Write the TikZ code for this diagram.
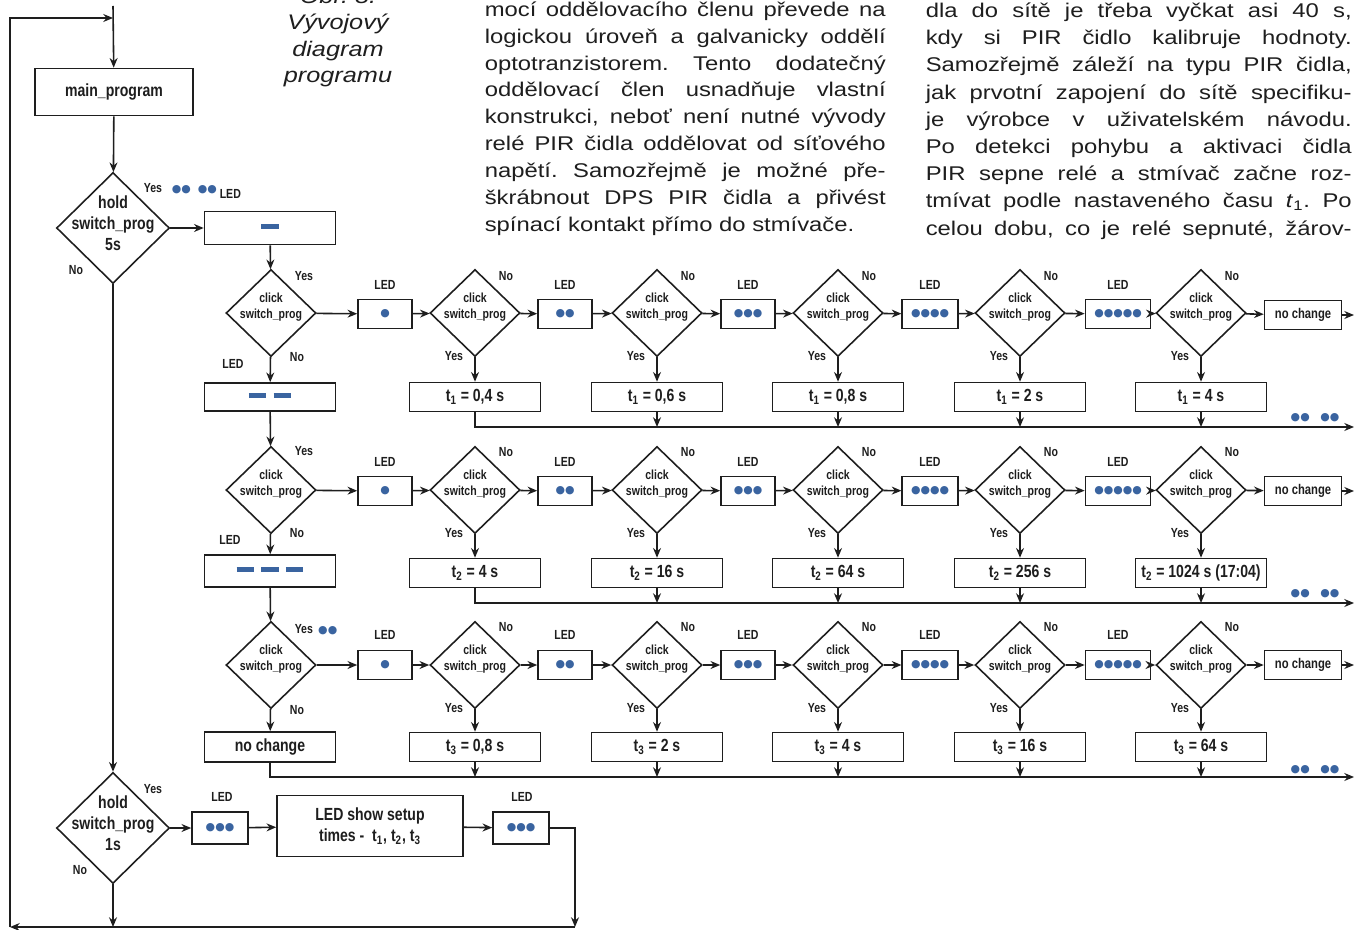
\documentclass[tikz,border=0pt]{standalone}
\usepackage{fontspec}
\setmainfont{Liberation Sans}
\newfontfamily\chartfont[FakeStretch=0.8]{Liberation Sans}
\newfontfamily\parafont[FakeStretch=1.2]{Liberation Sans}
\newfontfamily\ledfont{DejaVu Sans}
\usetikzlibrary{shapes.geometric,arrows.meta}
\frenchspacing

\definecolor{ink}{RGB}{30,30,30}
\definecolor{ledblue}{RGB}{58,100,160}

% text inside a diamond, kept out of the shape size
\newcommand\dtext[2][0pt]{\raisebox{#1}{\smash{\makebox[0pt]{\begin{tabular}{@{}c@{}}#2\end{tabular}}}}}
% blue LED marks
\newcommand\leds[1]{{\ledfont\fontsize{6.2}{8}\selectfont\color{ledblue}\ifcase#1\or ●\or ●●\or ●●●\or ●●●●\or ●●●●●\fi}}
\newcommand\ledbar{{\color{ledblue}\rule[1.6pt]{10pt}{3.2pt}}}

\begin{document}
\begin{tikzpicture}[x=0.02cm, y=-0.02cm, color=ink, line width=0.9pt,
	>={Stealth[length=5.5pt, width=4.5pt]},
	box/.style = {draw, minimum width=2.62cm, minimum height=0.58cm, inner sep=2pt, font=\chartfont\bfseries\fontsize{10}{12}\selectfont},
	ledbox/.style = {draw, minimum width=1.08cm, minimum height=0.58cm, inner xsep=5pt, inner ysep=2pt, font=\chartfont\bfseries\fontsize{8}{10}\selectfont},
	dia/.style = {draw, diamond, inner sep=0pt, minimum width=1.8cm, minimum height=1.74cm, font=\chartfont\bfseries\fontsize{7.5}{9}\selectfont},
	bigdia/.style = {dia, minimum width=2.26cm, minimum height=2.22cm, font=\chartfont\bfseries\fontsize{10}{12}\selectfont},
	lbl/.style = {inner sep=0pt, font=\chartfont\bfseries\fontsize{7.5}{9}\selectfont},
	para/.style = {inner sep=0pt, anchor=base west, font=\parafont\fontsize{11.3}{13}\selectfont},
	captxt/.style = {inner sep=0pt, anchor=base, font=\parafont\itshape\fontsize{12}{14}\selectfont}]

	\fill[white] (0,0) rectangle (1354,929);
	\useasboundingbox (0,0) rectangle (1354,929);

	% caption and article text
	\node[captxt] (O1) at (338,4) {Obr. 8.};
	\node[captxt] (O2) at (338,30) {Vývojový};
	\node[captxt] (O3) at (338,57) {diagram};
	\node[captxt] (O4) at (338,83) {programu};

	\foreach \txt [count=\i] in {{mocí oddělovacího členu převede na}, {logickou úroveň a galvanicky oddělí}, {optotranzistorem. Tento dodatečný}, {oddělovací člen usnadňuje vlastní}, {konstrukci, neboť není nutné vývody}, {relé PIR čidla oddělovat od síťového}, {napětí. Samozřejmě je možné pře-}, {škrábnout DPS PIR čidla a přivést}}
		\node[para] (PA\i) at (484,{16.5+26.8*(\i-1)}) {\makebox[8.02cm][s]{\txt}};
	\node[para] (PA9) at (484,231) {spínací kontakt přímo do stmívače.};

	\foreach \txt [count=\i] in {{dla do sítě je třeba vyčkat asi 40 s,}, {kdy si PIR čidlo kalibruje hodnoty.}, {Samozřejmě záleží na typu PIR čidla,}, {jak prvotní zapojení do sítě specifiku-}, {je výrobce v uživatelském návodu.}, {Po detekci pohybu a aktivaci čidla}, {PIR sepne relé a stmívač začne roz-}, {tmívat podle nastaveného času \textit{t}\textsubscript{1}. Po}, {celou dobu, co je relé sepnuté, žárov-}}
		\node[para] (PB\i) at (925,{17.5+27.2*(\i-1)}) {\makebox[8.52cm][s]{\txt}};

	% main loop
	\coordinate (top) at (113,6);
	\coordinate (J) at (113,18);
	\coordinate (LB) at (10,927);
	\node[box, minimum width=3.16cm, minimum height=0.94cm] (M) at (114,92) {main\_program};
	\node[bigdia] (D0) at (113,228) {\dtext[-2pt]{hold\\switch\_prog\\5s}};
	\node[lbl] (Y0) at (153,188) {Yes};
	\node[lbl, anchor=west] (K0) at (171,190) {\leds{2}\hspace{4pt}\leds{2}};
	\node[lbl, anchor=west] (H0) at (219,194) {LED};
	\node[lbl] (N0) at (76,270) {No};
	\node[box, minimum height=0.66cm] (B0) at (270,228) {\ledbar};

	\draw[->] (top) -- (M);
	\draw[->] (M) -- (D0);
	\draw[->] (D0) -- (B0);

	% row 1
	\node[dia] (R1) at (271,313) {\dtext[2.7pt]{click\\switch\_prog}};
	\node[lbl] (Y1) at (304,276) {Yes};
	\node[lbl] (N1) at (297,357) {No};
	\node[lbl] (H1) at (233,364) {LED};
	\node[box, minimum height=0.56cm] (B1) at (270,397) {\ledbar\hspace{4pt}\ledbar};
	\draw[->] (B0) -- (R1);
	\draw[->] (R1) -- (B1);
	\foreach \k/\x/\lx/\tv in {1/475/385/{0,4 s}, 2/657/565/{0,6 s}, 3/838/748/{0,8 s}, 4/1020/930/{2 s}, 5/1201/1118/{4 s}} {
		\node[ledbox] (L1\k) at (\lx,314) {\leds{\k}};
		\node[lbl] (H1\k) at (\lx,285) {LED};
		\node[dia] (C1\k) at (\x,313) {\dtext[2.7pt]{click\\switch\_prog}};
		\node[lbl] (N1\k) at (\x+31,276) {No};
		\node[lbl] (Y1\k) at (\x-21,356) {Yes};
		\node[box] (T1\k) at (\x,397) {t\textsubscript{1} = \tv};
		\draw[->] (L1\k) -- (C1\k);
		\draw[->] (C1\k) -- (T1\k);
	}
	\node[ledbox, minimum width=1.54cm] (Z1) at (1303,315) {no change};
	\coordinate (F1) at (1354,315);
	\coordinate (E1) at (1354,427);
	\node[lbl] (K1) at (1315,418) {\leds{2}\hspace{6pt}\leds{2}};
	\draw[->] (R1) -- (L11);
	\foreach \a/\b in {1/2, 2/3, 3/4, 4/5}
		\draw[->] (C1\a) -- (L1\b);
	\draw[->] (C15) -- (Z1);
	\draw[->] (Z1) -- (F1);
	\draw[->] (T11.south) |- (E1);
	\foreach \k in {2,...,5}
		\draw[->] (T1\k.south) -- (T1\k.south |- E1);

	% row 2
	\node[dia] (R2) at (271,490) {\dtext[2.7pt]{click\\switch\_prog}};
	\node[lbl] (Y2) at (304,451) {Yes};
	\node[lbl] (N2) at (297,533) {No};
	\node[lbl] (H2) at (230,540) {LED};
	\node[box, minimum height=0.64cm] (B2) at (270,571) {\ledbar\hspace{4pt}\ledbar\hspace{4pt}\ledbar};
	\draw[->] (B1) -- (R2);
	\draw[->] (R2) -- (B2);
	\foreach \k/\x/\lx/\tv in {1/475/385/{4 s}, 2/657/565/{16 s}, 3/838/748/{64 s}, 4/1020/930/{256 s}, 5/1201/1118/{1024 s (17:04)}} {
		\node[ledbox] (L2\k) at (\lx,491) {\leds{\k}};
		\node[lbl] (H2\k) at (\lx,462) {LED};
		\node[dia] (C2\k) at (\x,490) {\dtext[2.7pt]{click\\switch\_prog}};
		\node[lbl] (N2\k) at (\x+31,452) {No};
		\node[lbl] (Y2\k) at (\x-21,533) {Yes};
		\node[box] (T2\k) at (\x,573) {t\textsubscript{2} = \tv};
		\draw[->] (L2\k) -- (C2\k);
		\draw[->] (C2\k) -- (T2\k);
	}
	\node[ledbox, minimum width=1.54cm] (Z2) at (1303,491) {no change};
	\coordinate (F2) at (1354,491);
	\coordinate (E2) at (1354,603);
	\node[lbl] (K2) at (1315,594) {\leds{2}\hspace{6pt}\leds{2}};
	\draw[->] (R2) -- (L21);
	\foreach \a/\b in {1/2, 2/3, 3/4, 4/5}
		\draw[->] (C2\a) -- (L2\b);
	\draw[->] (C25) -- (Z2);
	\draw[->] (Z2) -- (F2);
	\draw[->] (T21.south) |- (E2);
	\foreach \k in {2,...,5}
		\draw[->] (T2\k.south) -- (T2\k.south |- E2);

	% row 3
	\node[dia] (R3) at (271,665) {\dtext[2.7pt]{click\\switch\_prog}};
	\node[lbl, anchor=west] (Y3) at (294,630) {Yes\hspace{3pt}\leds{2}};
	\node[lbl] (N3) at (297,710) {No};
	\node[box, minimum height=0.6cm] (B3) at (270,747) {no change};
	\draw[->] (B2) -- (R3);
	\draw[->] (R3) -- (B3);
	\foreach \k/\x/\lx/\tv in {1/475/385/{0,8 s}, 2/657/565/{2 s}, 3/838/748/{4 s}, 4/1020/930/{16 s}, 5/1201/1118/{64 s}} {
		\node[ledbox] (L3\k) at (\lx,665) {\leds{\k}};
		\node[lbl] (H3\k) at (\lx,635) {LED};
		\node[dia] (C3\k) at (\x,665) {\dtext[2.7pt]{click\\switch\_prog}};
		\node[lbl] (N3\k) at (\x+31,627) {No};
		\node[lbl] (Y3\k) at (\x-21,708) {Yes};
		\node[box] (T3\k) at (\x,747) {t\textsubscript{3} = \tv};
		\draw[->] (L3\k) -- (C3\k);
		\draw[->] (C3\k) -- (T3\k);
	}
	\node[ledbox, minimum width=1.54cm] (Z3) at (1303,665) {no change};
	\coordinate (F3) at (1354,665);
	\coordinate (E3) at (1354,777);
	\node[lbl] (K3) at (1315,770) {\leds{2}\hspace{6pt}\leds{2}};
	\draw[->] (R3) -- (L31);
	\foreach \a/\b in {1/2, 2/3, 3/4, 4/5}
		\draw[->] (C3\a) -- (L3\b);
	\draw[->] (C35) -- (Z3);
	\draw[->] (Z3) -- (F3);
	\draw[->] (B3.south) |- (E3);
	\foreach \k in {1,...,5}
		\draw[->] (T3\k.south) -- (T3\k.south |- E3);

	% show setup times
	\node[bigdia] (D4) at (113,828) {\dtext[-2pt]{hold\\switch\_prog\\1s}};
	\node[lbl] (Y4) at (153,789) {Yes};
	\node[lbl] (N4) at (80,870) {No};
	\node[ledbox, minimum width=1.12cm, minimum height=0.64cm] (P1) at (220,828) {\leds{3}};
	\node[lbl] (H4) at (222,797) {LED};
	\node[box, minimum width=3.72cm, minimum height=1.22cm, align=center] (S) at (370,826) {LED show setup\\times -\ \ t\textsubscript{1}, t\textsubscript{2}, t\textsubscript{3}};
	\node[ledbox, minimum width=1.12cm, minimum height=0.64cm] (P2) at (521,828) {\leds{3}};
	\node[lbl] (H5) at (522,797) {LED};
	\coordinate (G0) at (113,927);
	\coordinate (G1) at (575,927);

	\draw[->] (D0) -- (D4);
	\draw[->] (D4) -- (P1);
	\draw[->] (P1) -- (S);
	\draw[->] (S) -- (P2);
	\draw[->] (P2) -| (G1);
	\draw[->] (D4) -- (G0);
	\draw[->] (G1) -- (LB);
	\draw[->] (LB) |- (J);

\end{tikzpicture}
\end{document}
